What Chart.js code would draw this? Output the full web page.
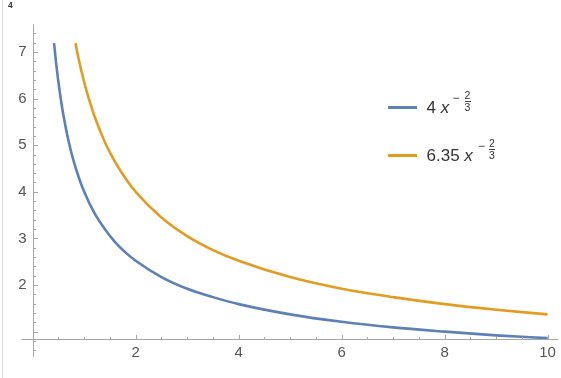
<!DOCTYPE html>
<html>
<head>
<meta charset="utf-8">
<script src="https://cdn.jsdelivr.net/npm/chart.js@4.4.1/dist/chart.umd.min.js"></script>
<style>
  html, body { margin: 0; padding: 0; background: #fff; }
  #wrap { position: relative; width: 561px; height: 378px; overflow: hidden; }
  #c { position: absolute; left: 0; top: 0; }
  #edge { position: absolute; left: 2px; top: 0; width: 1px; height: 378px; background: #dcdcdc; }
  #corner { position: absolute; left: 8px; top: 0px; font: bold 8.5px "Liberation Sans", Arial, sans-serif; color: #333; }
  .leg { position: absolute; left: 388px; width: 160px; height: 24px; font-family: "Liberation Sans", Arial, sans-serif; color: #333; }
  .sw { position: absolute; left: 0; top: 7.2px; width: 29px; height: 3px; }
  .lbl { position: absolute; left: 38.5px; top: 0; font-size: 17px; line-height: 17px; white-space: nowrap; }
  .lbl i { font-style: italic; }
  .m { position: absolute; top: -7px; font-size: 12px; line-height: 12px; }
  .fr { position: absolute; top: -8.8px; width: 9px; font-size: 10.5px; line-height: 10.5px; text-align: center; }
  .fr span { display: block; height: 10.5px; }
  .fr .bar { height: 1px; width: 6px; margin: 0 auto; background: #444; }
</style>
</head>
<body>
<div id="wrap">
  <canvas id="c" width="561" height="378"></canvas>
  <div id="edge"></div>
  <div id="corner">4</div>
  <div class="leg" style="top:99px">
    <div class="sw" style="background:#5E81B5"></div>
    <div class="lbl">4 <i>x</i></div>
    <span class="m" style="left:64.5px">−</span>
    <div class="fr" style="left:75px"><span>2</span><span class="bar"></span><span>3</span></div>
  </div>
  <div class="leg" style="top:147px">
    <div class="sw" style="background:#E19C24"></div>
    <div class="lbl">6.35 <i>x</i></div>
    <span class="m" style="left:90px">−</span>
    <div class="fr" style="left:99.5px"><span>2</span><span class="bar"></span><span>3</span></div>
  </div>
</div>
<script>
// ---- data ----
const blueX = [0.415, 0.45, 0.5, 0.55, 0.6, 0.7, 0.8, 0.9, 1, 1.2, 1.4, 1.6, 1.8, 2, 2.5, 3, 3.5, 4, 5, 6, 7, 8, 9, 10];
const blueY = [7.19, 6.81, 6.35, 5.96, 5.62, 5.07, 4.64, 4.29, 4.00, 3.54, 3.20, 2.92, 2.70, 2.52, 2.17, 1.92, 1.74, 1.59, 1.37, 1.21, 1.09, 1.00, 0.92, 0.86];
const orangeX = [0.83, 0.9, 1, 1.1, 1.2, 1.4, 1.6, 1.8, 2, 2.5, 3, 3.5, 4, 5, 6, 7, 8, 9, 10];
const orangeY = [7.19, 6.81, 6.35, 5.96, 5.62, 5.07, 4.64, 4.29, 4.00, 3.45, 3.05, 2.75, 2.52, 2.17, 1.92, 1.74, 1.59, 1.47, 1.37];
const seriesNames = ['4 x^(-2/3)', '6.35 x^(-2/3)'];
const xTickLabels = [2, 4, 6, 8, 10];
const yTickLabels = [2, 3, 4, 5, 6, 7];
const xMinorTicks = [0.5, 1, 1.5, 2.5, 3, 3.5, 4.5, 5, 5.5, 6.5, 7, 7.5, 8.5, 9, 9.5];
const yMajorTicks = [1, 2, 3, 4, 5, 6, 7];
const yMinorTicks = [0.6, 0.8, 1.2, 1.4, 1.6, 1.8, 2.2, 2.4, 2.6, 2.8, 3.2, 3.4, 3.6, 3.8, 4.2, 4.4, 4.6, 4.8, 5.2, 5.4, 5.6, 5.8, 6.2, 6.4, 6.6, 6.8, 7.2, 7.4];

const AXIS_COLOR = '#a6a6a6';
const LABEL_COLOR = '#555555';
const xRange = { min: 0, max: 10.21, extMin: -0.22 };
const yRange = { min: 0.835, max: 7.594, extMin: 0.461 };

const axesPlugin = {
  id: 'mmaAxes',
  afterDatasetsDraw(chart) {
    const ctx = chart.ctx;
    const xs = chart.scales.x, ys = chart.scales.y;
    const x0 = Math.round(xs.getPixelForValue(0)) + 0.5;
    const y0 = Math.round(ys.getPixelForValue(yRange.min)) + 0.5;
    ctx.save();
    ctx.strokeStyle = AXIS_COLOR;
    ctx.lineWidth = 1;
    ctx.beginPath();
    ctx.moveTo(xs.getPixelForValue(xRange.extMin), y0);
    ctx.lineTo(xs.getPixelForValue(xRange.max), y0);
    ctx.moveTo(x0, ys.getPixelForValue(yRange.max));
    ctx.lineTo(x0, ys.getPixelForValue(yRange.extMin));
    ctx.stroke();
    ctx.beginPath();
    xTickLabels.forEach(v => { const p = Math.round(xs.getPixelForValue(v)) + 0.5; ctx.moveTo(p, y0); ctx.lineTo(p, y0 - 4.5); });
    xMinorTicks.forEach(v => { const p = Math.round(xs.getPixelForValue(v)) + 0.5; ctx.moveTo(p, y0); ctx.lineTo(p, y0 - 2.5); });
    yMajorTicks.forEach(v => { const p = Math.round(ys.getPixelForValue(v)) + 0.5; ctx.moveTo(x0, p); ctx.lineTo(x0 + 4.5, p); });
    yMinorTicks.forEach(v => { const p = Math.round(ys.getPixelForValue(v)) + 0.5; ctx.moveTo(x0, p); ctx.lineTo(x0 + 2.5, p); });
    ctx.stroke();
    ctx.restore();
  }
};

const toPts = (xsArr, ysArr) => xsArr.map((x, i) => ({ x, y: ysArr[i] }));
const tickFont = { family: '"Liberation Sans", Arial, sans-serif', size: 15 };

new Chart(document.getElementById('c'), {
  type: 'line',
  data: {
    datasets: [
      { label: seriesNames[0], data: toPts(blueX, blueY), borderColor: '#5E81B5', borderWidth: 2.6, pointRadius: 0, cubicInterpolationMode: 'monotone', fill: false },
      { label: seriesNames[1], data: toPts(orangeX, orangeY), borderColor: '#E19C24', borderWidth: 2.6, pointRadius: 0, cubicInterpolationMode: 'monotone', fill: false }
    ]
  },
  options: {
    responsive: false,
    animation: false,
    devicePixelRatio: 1,
    layout: { padding: { left: 0, top: 24.3, right: 2.3, bottom: 0 } },
    plugins: { legend: { display: false }, tooltip: { enabled: false } },
    scales: {
      x: {
        type: 'linear', position: 'bottom', min: xRange.min, max: xRange.max,
        afterBuildTicks: s => { s.ticks = xTickLabels.map(v => ({ value: v })); },
        afterFit: s => { s.height = 378 - 339.3; },
        grid: { display: false, drawTicks: false },
        border: { display: false },
        ticks: { color: LABEL_COLOR, padding: 5, maxRotation: 0, font: tickFont }
      },
      y: {
        type: 'linear', position: 'left', min: yRange.min, max: yRange.max,
        afterBuildTicks: s => { s.ticks = yTickLabels.map(v => ({ value: v })); },
        afterFit: s => { s.width = 32.7; },
        grid: { display: false, drawTicks: false },
        border: { display: false },
        ticks: { color: LABEL_COLOR, padding: 6, font: tickFont }
      }
    }
  },
  plugins: [axesPlugin]
});
</script>
</body>
</html>
